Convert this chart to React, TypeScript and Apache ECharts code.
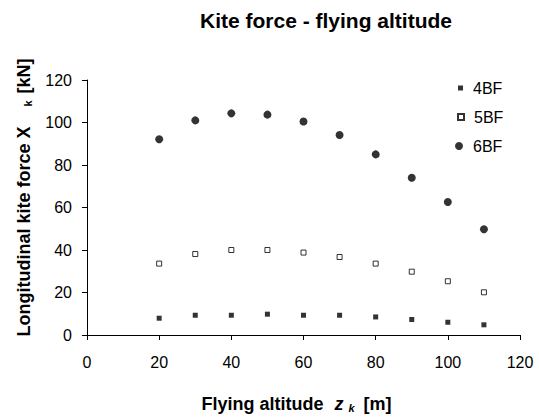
import React, { useEffect, useRef } from "react";
import * as echarts from "echarts";

const altitudes = [20, 30, 40, 50, 60, 70, 80, 90, 100, 110];
const force4BF = [7.9, 9.3, 9.3, 9.8, 9.3, 9.3, 8.5, 7.3, 6.0, 4.8];
const force5BF = [33.6, 38.1, 40.0, 40.0, 38.8, 36.7, 33.6, 29.8, 25.3, 20.1];
const force6BF = [92.1, 101.0, 104.3, 103.7, 100.5, 94.1, 85.0, 74.0, 62.6, 49.8];
const seriesNames = ["4BF", "5BF", "6BF"];

const FONT = "'Liberation Sans', Arial, sans-serif";

export default function App() {
  const ref = useRef<HTMLDivElement>(null);
  useEffect(() => {
    if (!ref.current) return;
    const chart = echarts.init(ref.current, null, { renderer: "svg" });
    const pairs = (vals: number[]) => altitudes.map((x, i) => [x, vals[i]]);
    const legendText = { fontFamily: FONT, fontSize: 16, color: "#000", padding: [0, 0, 0, 5] };
    chart.setOption({
      animation: false,
      backgroundColor: "#fff",
      textStyle: { fontFamily: FONT },
      title: {
        text: "Kite force - flying altitude",
        left: 200,
        top: 10,
        padding: 0,
        textStyle: { fontFamily: FONT, fontSize: 21, fontWeight: "bold", color: "#000" },
      },
      legend: [
        {
          data: [{ name: seriesNames[0], icon: "rect" }],
          left: 458, top: 80, padding: 0, itemWidth: 5, itemHeight: 5,
          textStyle: legendText,
        },
        {
          data: [{ name: seriesNames[1], icon: "rect" }],
          left: 457, top: 109, padding: 0, itemWidth: 6, itemHeight: 6,
          textStyle: legendText,
        },
        {
          data: [{ name: seriesNames[2], icon: "circle" }],
          left: 455, top: 138, padding: 0, itemWidth: 8, itemHeight: 8,
          textStyle: legendText,
        },
      ],
      grid: { left: 87, right: 19, top: 80, bottom: 80 },
      xAxis: {
        type: "value",
        min: 0,
        max: 120,
        interval: 20,
        name: "Flying altitude{zi|z}{sub|k}[m]",
        nameLocation: "middle",
        nameGap: 60,
        nameTextStyle: {
          fontFamily: FONT, fontSize: 18, fontWeight: "bold", color: "#000",
          padding: [0, 14, 0, 0],
          rich: {
            zi: { fontFamily: FONT, fontSize: 18, fontWeight: "bold", fontStyle: "italic", color: "#000", padding: [0, 0, 0, 11] },
            sub: { fontFamily: FONT, fontSize: 11, fontWeight: "bold", fontStyle: "italic", color: "#000", verticalAlign: "bottom", padding: [0, 9, 0, 5] },
          },
        },
        axisLine: { show: true, lineStyle: { color: "#000", width: 1 } },
        axisTick: { show: true, inside: false, length: 5, lineStyle: { color: "#000" } },
        axisLabel: { fontFamily: FONT, fontSize: 16, color: "#000", margin: 19 },
        splitLine: { show: false },
      },
      yAxis: {
        type: "value",
        min: 0,
        max: 120,
        interval: 20,
        name: "Longitudinal kite force X{sub|k}[kN]",
        nameLocation: "middle",
        nameRotate: 90,
        nameGap: 54,
        nameTextStyle: {
          fontFamily: FONT, fontSize: 18, fontWeight: "bold", color: "#000",
          padding: [0, 0, 0, 20],
          rich: {
            sub: { fontFamily: FONT, fontSize: 11, fontWeight: "bold", color: "#000", verticalAlign: "bottom", padding: [0, 7, 0, 20] },
          },
        },
        axisLine: { show: true, lineStyle: { color: "#000", width: 1 } },
        axisTick: { show: true, inside: false, length: 5, lineStyle: { color: "#000" } },
        axisLabel: { fontFamily: FONT, fontSize: 16, color: "#000", margin: 15 },
        splitLine: { show: false },
      },
      series: [
        {
          name: seriesNames[0], type: "scatter", symbol: "rect", symbolSize: 5,
          itemStyle: { color: "#000" }, data: pairs(force4BF),
        },
        {
          name: seriesNames[1], type: "scatter", symbol: "rect", symbolSize: 5,
          itemStyle: { color: "#fff", borderColor: "#000", borderWidth: 1 }, data: pairs(force5BF),
        },
        {
          name: seriesNames[2], type: "scatter", symbol: "circle", symbolSize: 8,
          itemStyle: { color: "#000" }, data: pairs(force6BF),
        },
      ],
    });
    return () => chart.dispose();
  }, []);
  return <div ref={ref} style={{ width: 539, height: 418, position: "absolute", left: 0, top: 0 }} />;
}
